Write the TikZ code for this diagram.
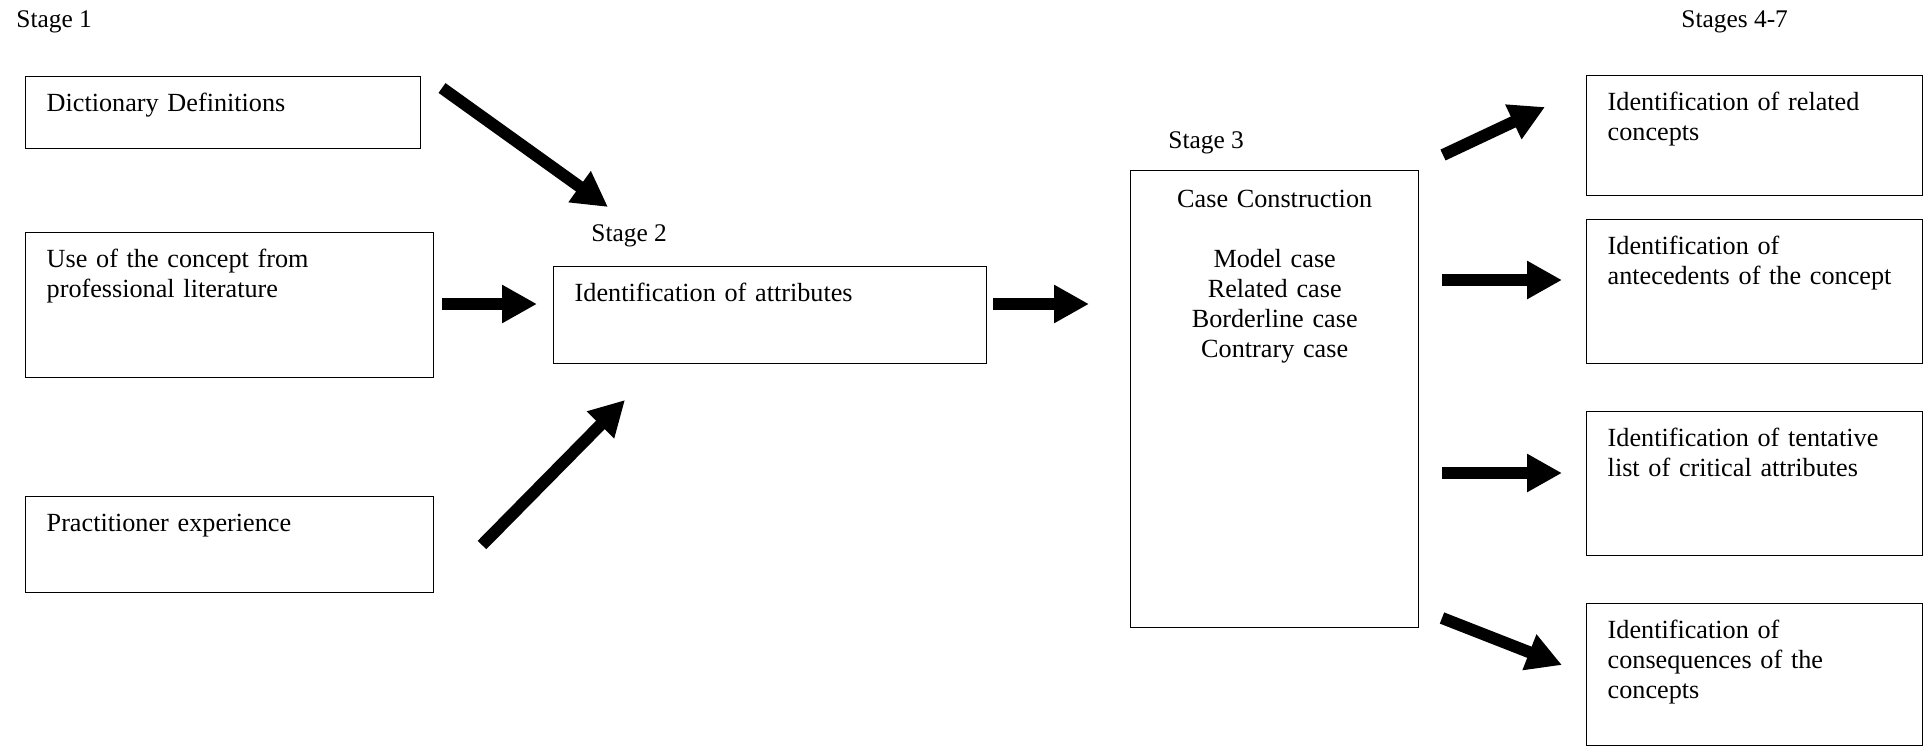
\documentclass[tikz,border=0pt]{standalone}
\usepackage{fontspec}
\setmainfont{Liberation Serif}
\usetikzlibrary{arrows.meta}

\begin{document}
\begin{tikzpicture}[x=1pt,y=1pt,
  box/.style={draw,line width=0.7pt,anchor=north west,inner xsep=10.5pt,inner ysep=0pt,
    align=left,font=\fontsize{13.1}{15}\selectfont,text height=17.5pt},
  lbl/.style={anchor=base west,inner sep=0pt,font=\fontsize{12.7}{15}\selectfont},
  a/.style={-{Triangle[width=18pt,length=17.5pt]},line width=6pt}]
  \useasboundingbox (0,0) rectangle (964,-373);
  % stage labels
  \node[lbl] (s1) at (8,-13.5) {Stage 1};
  \node[lbl] (s2) at (295.5,-120.5) {Stage 2};
  \node[lbl] (s3) at (584,-74) {Stage 3};
  \node[lbl] (s47) at (840.5,-13.5) {Stages 4-7};
  % stage 1 sources
  \node[box,text width=176.5pt,text depth=18.5pt] (dict) at (12.5,-38) {Dictionary Definitions};
  \node[box,text width=183pt,text depth=55pt] (lit) at (12.5,-116) {Use of the concept from\\professional literature};
  \node[box,text width=183pt,text depth=30.5pt] (prac) at (12.5,-248) {Practitioner experience};
  % stage 2
  \node[box,text width=195.5pt,text depth=31pt] (attr) at (276.5,-133) {Identification of attributes};
  % stage 3
  \node[box,align=center,text width=123pt,text height=18.5pt,text depth=210pt] (case) at (565,-85)
    {Case Construction\\[15pt]Model case\\Related case\\Borderline case\\Contrary case};
  % stages 4-7
  \node[box,text width=147pt,text depth=42.5pt] (rel) at (793,-37.5) {Identification of related\\concepts};
  \node[box,text width=147pt,text depth=54.5pt] (ante) at (793,-109.5) {Identification of\\antecedents of the concept};
  \node[box,text width=147pt,text depth=54.5pt] (crit) at (793,-205.5) {Identification of tentative\\list of critical attributes};
  \node[box,text width=147pt,text depth=53.5pt] (cons) at (793,-301.5) {Identification of\\consequences of the\\concepts};
  % arrow ends
  \coordinate (dict-o) at (221,-44);     \coordinate (attr-i1) at (304,-103.5);
  \coordinate (lit-o) at (221,-152);     \coordinate (attr-i2) at (268.5,-152);
  \coordinate (prac-o) at (241,-272.5);  \coordinate (attr-i3) at (312.5,-200);
  \coordinate (attr-o) at (496.5,-152);  \coordinate (case-i) at (544.5,-152);
  \coordinate (case-o1) at (721.5,-77.5); \coordinate (rel-i) at (772.5,-53.5);
  \coordinate (case-o2) at (721,-140);   \coordinate (ante-i) at (781,-140);
  \coordinate (case-o3) at (721,-236.5); \coordinate (crit-i) at (781,-236.5);
  \coordinate (case-o4) at (721,-309);   \coordinate (cons-i) at (781,-332.5);
  \foreach \p/\q in {dict-o/attr-i1,lit-o/attr-i2,prac-o/attr-i3,attr-o/case-i,
    case-o1/rel-i,case-o2/ante-i,case-o3/crit-i,case-o4/cons-i}
    \draw[a] (\p) -- (\q);
\end{tikzpicture}
\end{document}
